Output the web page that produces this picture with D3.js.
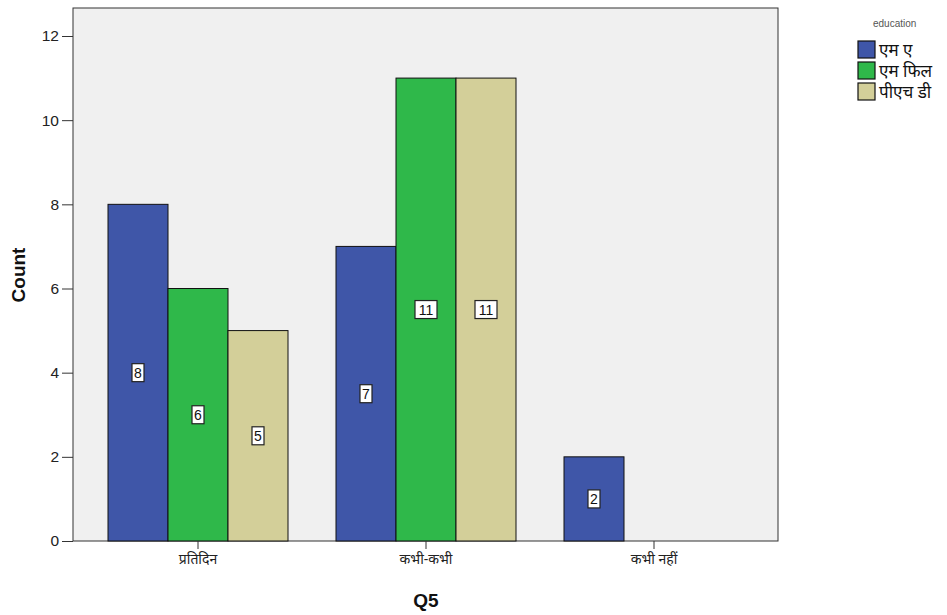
<!DOCTYPE html>
<html><head><meta charset="utf-8">
<script src="https://cdn.jsdelivr.net/npm/d3@7"></script>
<style>body{margin:0;background:#fff}svg{display:block}</style>
</head><body>
<script>
const categories = ["प्रतिदिन", "कभी-कभी", "कभी नहीं"];
const seriesNames = ["एम ए", "एम फिल", "पीएच डी"];
const seriesColors = ["#3f56a8", "#2fb84a", "#d3cf99"];
const valuesMA = [8, 7, 2];
const valuesMPhil = [6, 11, 0];
const valuesPhD = [5, 11, 0];
const yTicks = [0, 2, 4, 6, 8, 10, 12];
const seriesValues = [valuesMA, valuesMPhil, valuesPhD];

const W = 947, H = 615;
const svg = d3.select("body").append("svg").attr("width", W).attr("height", H);
const frame = {l: 73, r: 778, t: 8, b: 541};

svg.append("rect").attr("x", frame.l).attr("y", frame.t)
  .attr("width", frame.r - frame.l).attr("height", frame.b - frame.t)
  .attr("fill", "#f0f0f0").attr("stroke", "#333").attr("stroke-width", 1);

const y = d3.scaleLinear().domain([0, 12]).range([541, 36]);
const x = d3.scaleBand().domain(categories).range([108, 744]).paddingInner(48/228).paddingOuter(0);
const xs = d3.scaleBand().domain(seriesNames).range([0, x.bandwidth()]);

const data = [];
categories.forEach((c, i) => seriesNames.forEach((s, j) => {
  const v = seriesValues[j][i];
  if (v > 0) data.push({c, s, v, j});
}));

const g = svg.append("g");
g.selectAll("rect.bar").data(data).join("rect").attr("class", "bar")
  .attr("x", d => x(d.c) + xs(d.s)).attr("y", d => y(d.v))
  .attr("width", xs.bandwidth()).attr("height", d => y(0) - y(d.v))
  .attr("fill", d => seriesColors[d.j]).attr("stroke", "#111").attr("stroke-width", 1);

// value labels
const lab = g.selectAll("g.lab").data(data).join("g").attr("class", "lab")
  .attr("transform", d => `translate(${x(d.c) + xs(d.s) + xs.bandwidth()/2},${y(d.v/2)})`);
lab.append("rect")
  .attr("x", d => d.v >= 10 ? -11 : -6).attr("y", -9)
  .attr("width", d => d.v >= 10 ? 22 : 12).attr("height", 18)
  .attr("fill", "#fff").attr("stroke", "#222").attr("stroke-width", 1.2);
lab.append("text").attr("text-anchor", "middle").attr("dy", "0.36em")
  .attr("font-family", "Arial, 'Liberation Sans', sans-serif").attr("font-size", 14)
  .attr("fill", "#111").text(d => d.v);

// y axis
const ya = svg.append("g").attr("transform", `translate(${frame.l},0)`)
  .call(d3.axisLeft(y).tickValues(yTicks).tickSize(11).tickSizeOuter(0).tickPadding(3));
ya.select(".domain").remove();
ya.selectAll("line").attr("stroke", "#333");
ya.selectAll("text").attr("font-family", "Arial, 'Liberation Sans', sans-serif").attr("font-size", 15.5).attr("fill", "#222");

// x axis
const xa = svg.append("g").attr("transform", `translate(0,${frame.b})`)
  .call(d3.axisBottom(x).tickSize(8).tickSizeOuter(0).tickPadding(5));
xa.select(".domain").remove();
xa.selectAll("line").attr("stroke", "#333");
xa.selectAll("text").attr("font-family", "'Noto Sans', 'Lohit Devanagari', sans-serif").attr("font-size", 14).attr("fill", "#222");

// axis titles
svg.append("text").attr("transform", "translate(25,275) rotate(-90)").attr("text-anchor", "middle")
  .attr("font-family", "Arial, 'Liberation Sans', sans-serif").attr("font-weight", "bold").attr("font-size", 19)
  .attr("fill", "#111").text("Count");
svg.append("text").attr("x", 426).attr("y", 607).attr("text-anchor", "middle")
  .attr("font-family", "Arial, 'Liberation Sans', sans-serif").attr("font-weight", "bold").attr("font-size", 19)
  .attr("fill", "#111").text("Q5");

// legend
svg.append("text").attr("x", 873).attr("y", 27)
  .attr("font-family", "Arial, 'Liberation Sans', sans-serif").attr("font-size", 10).attr("fill", "#555").text("education");
const lg = svg.append("g").selectAll("g").data(seriesNames).join("g")
  .attr("transform", (d, i) => `translate(858,${41 + i * 21})`);
lg.append("rect").attr("width", 17).attr("height", 17)
  .attr("fill", (d, i) => seriesColors[i]).attr("stroke", "#111").attr("stroke-width", 1.2);
lg.append("text").attr("x", 21).attr("y", 9).attr("dy", "0.36em")
  .attr("font-family", "'Noto Sans', sans-serif").attr("font-size", 17).attr("fill", "#111").text(d => d);
</script>
</body></html>
